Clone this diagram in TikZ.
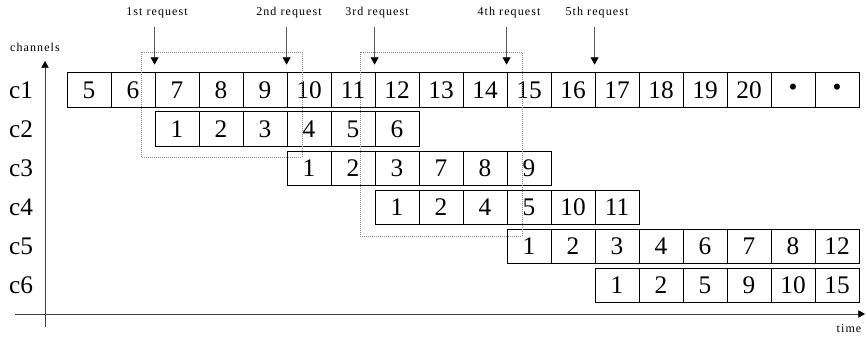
\documentclass[tikz,border=0pt]{standalone}
\usepackage{fontspec}
\setmainfont{Liberation Serif}
\newfontfamily\spacedfont[LetterSpace=9]{Liberation Serif}
\usetikzlibrary{arrows.meta,positioning}

\begin{document}
\begin{tikzpicture}[x=0.75pt, y=-0.75pt,
    cell/.style={draw, line width=0.6pt, minimum width=33pt, minimum height=25.9pt, inner sep=0pt, font=\fontsize{19}{22}\selectfont},
    chan/.style={font=\fontsize{19}{22}\selectfont},
    small/.style={font=\spacedfont\fontsize{9}{11}\selectfont},
    reqarrow/.style={draw=black!65, line width=0.6pt, -{Triangle[width=6pt, length=5.5pt, black]}, shorten >=5.8pt},
    timeaxis/.style={draw=black!75, line width=0.6pt, -{Triangle[width=5.5pt, length=5pt, black]}},
    window/.style={draw=black!45, densely dotted, line width=0.5pt}
]
\useasboundingbox (0,0) rectangle (866,340);

% channel rows
\foreach \r/\s/\vals in {1/0/{5,6,7,8,9,10,11,12,13,14,15,16,17,18,19,20,\textbullet,\textbullet},
                         2/2/{1,2,3,4,5,6},
                         3/5/{1,2,3,7,8,9},
                         4/7/{1,2,4,5,10,11},
                         5/10/{1,2,3,4,6,7,8,12},
                         6/12/{1,2,5,9,10,15}} {
    \node[chan] (lab\r) at (21, {90+39.1*(\r-1)}) {c\r};
    \foreach \v [count=\k from \s] in \vals
        \node[cell] (c\r-\k) at ({89+44*\k}, {90+39.1*(\r-1)}) {\v};
}

% request windows
\draw[window] (141,52) rectangle (302,157);
\draw[window] (360,52) rectangle (522,236);

% requests
\foreach \n/\lab/\col in {1/1st/2, 2/2nd/5, 3/3rd/7, 4/4th/10, 5/5th/12} {
    \node[small] (req\n) at ({69+44*\col}, 13) {\lab\ request};
    \draw[reqarrow] ([yshift=-3pt]req\n.south -| c1-\col.north west) -- (c1-\col.north west);
}

% axes
\coordinate (vbot) at (45,327);
\coordinate (vtop) at (45,61);
\coordinate (hleft) at (15,314);
\coordinate (hright) at (865,314);
\draw[timeaxis] (vbot) -- (vtop);
\draw[timeaxis] (hleft) -- (hright);
\node[small] (chlab) at (35,47) {channels};
\node[small] (timelab) at (849,329) {time};
\end{tikzpicture}
\end{document}
